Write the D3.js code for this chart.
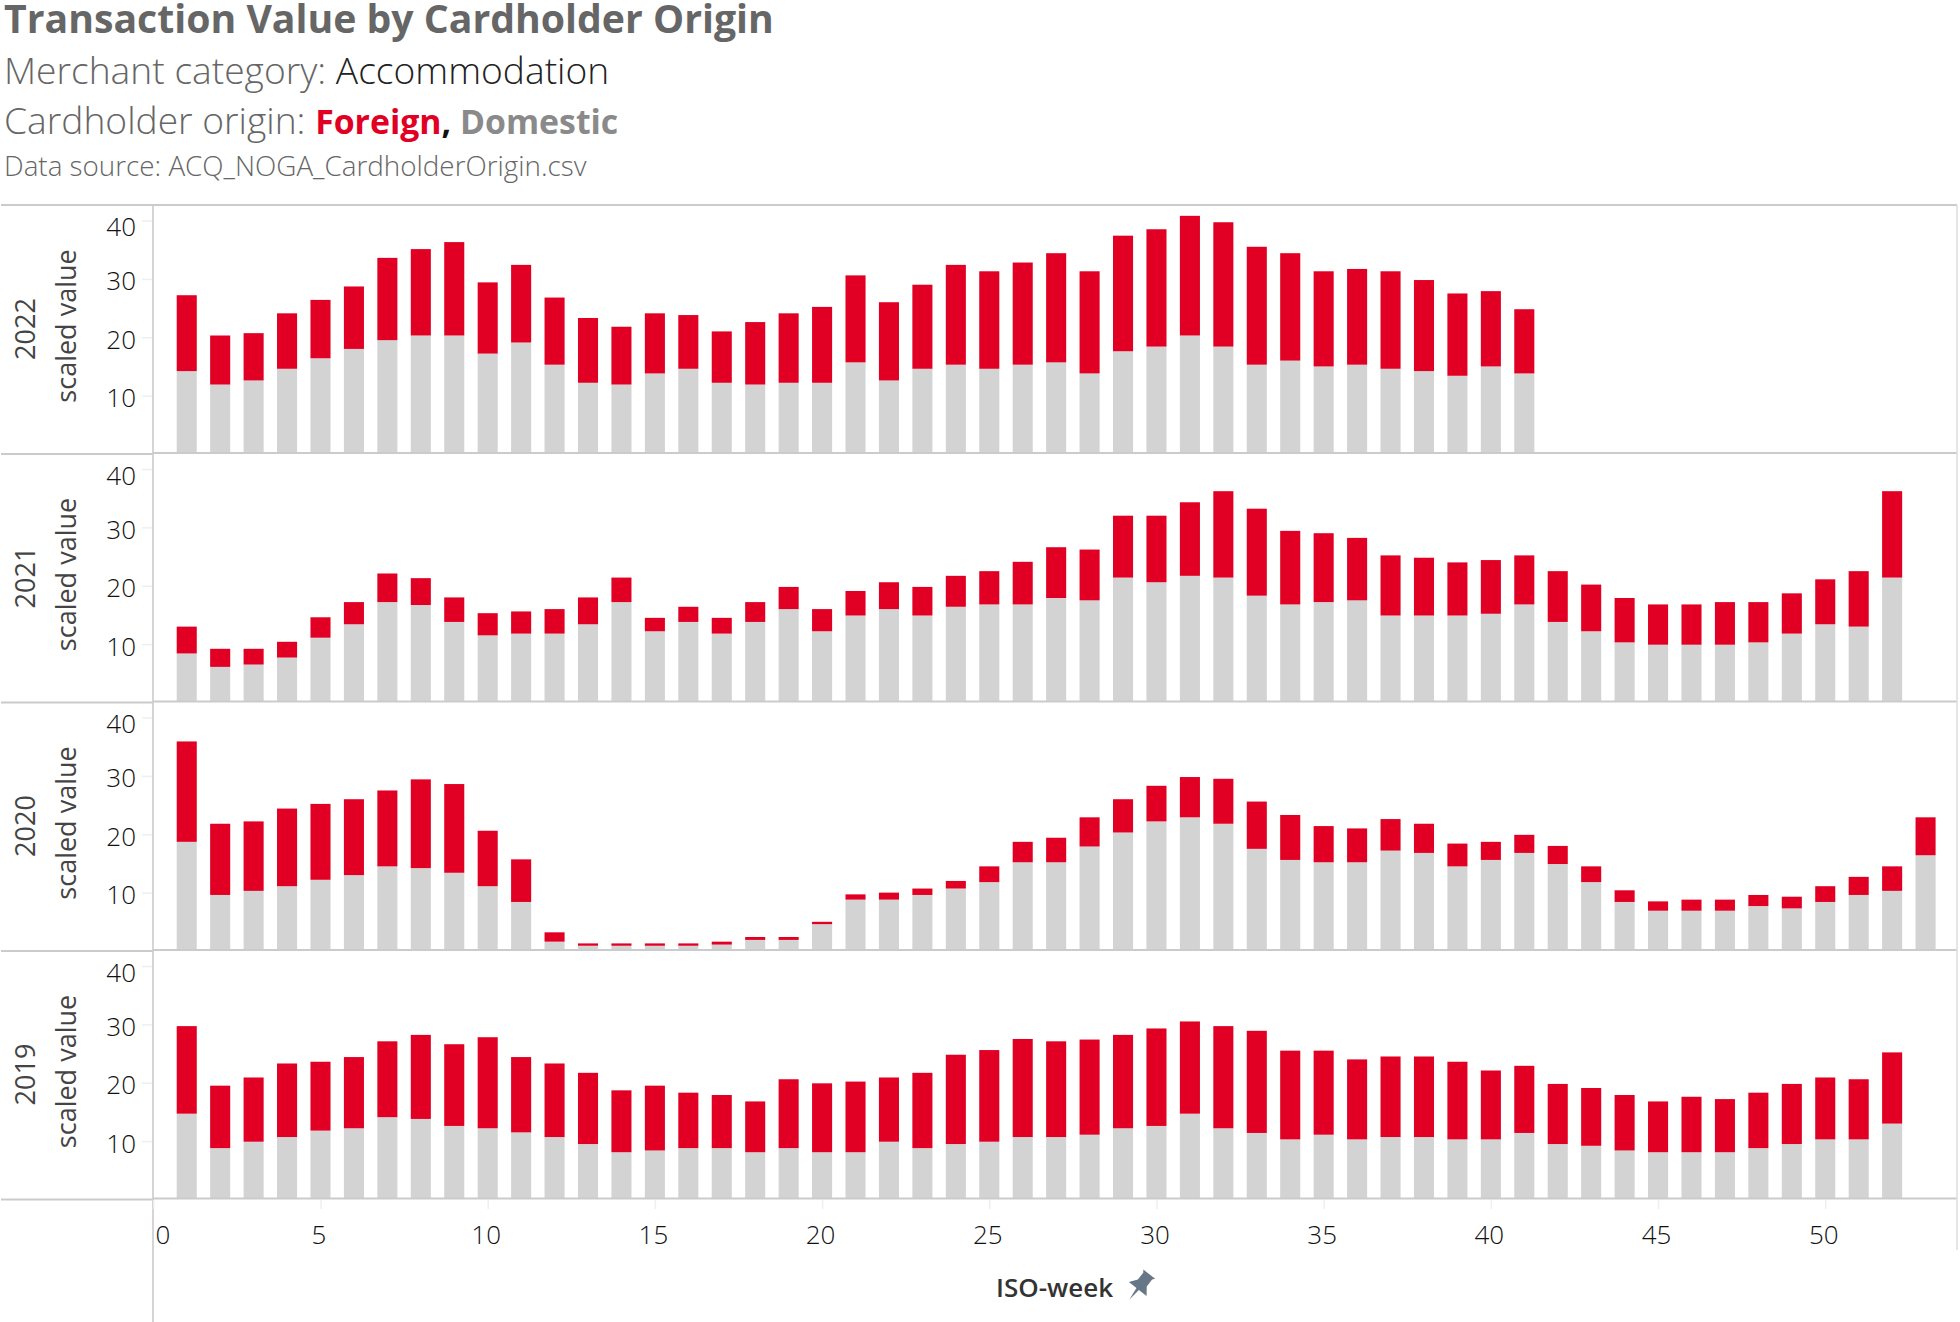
<!DOCTYPE html>
<html><head><meta charset="utf-8">
<script src="https://cdnjs.cloudflare.com/ajax/libs/d3/7.8.5/d3.min.js"></script>
<style>
html,body{margin:0;padding:0;background:#fff;overflow:hidden}
svg{display:block}
text{font-family:"Open Sans",sans-serif}
</style></head><body><svg id="c" width="1960" height="1322"></svg>
<script>
const years = [2022, 2021, 2020, 2019];
const yTicks = [10, 20, 30, 40];
const xTicks = [0, 5, 10, 15, 20, 25, 30, 35, 40, 45, 50];

const domestic2022 = [14.2,11.9,12.6,14.6,16.4,18.0,19.5,20.3,20.3,17.2,19.1,15.3,12.2,11.9,13.8,14.6,12.2,11.9,12.2,12.2,15.7,12.6,14.6,15.3,14.6,15.3,15.7,13.8,17.6,18.4,20.3,18.4,15.3,16.0,15.0,15.3,14.6,14.2,13.4,15.0,13.8];
const foreign2022  = [13.0,8.4,8.1,9.5,10.0,10.7,14.1,14.8,16.0,12.2,13.3,11.5,11.1,9.9,10.3,9.2,8.8,10.7,11.9,13.0,14.9,13.4,14.4,17.1,16.7,17.5,18.7,17.5,19.8,20.1,20.5,21.3,20.2,18.4,16.3,16.4,16.7,15.6,14.1,12.9,11.0];

const domestic2021 = [8.4,6.1,6.5,7.7,11.1,13.4,17.2,16.7,13.8,11.5,11.8,11.8,13.4,17.2,12.2,13.8,11.8,13.8,16.0,12.2,14.9,16.0,14.9,16.4,16.8,16.8,17.9,17.5,21.4,20.6,21.7,21.4,18.3,16.8,17.2,17.5,14.9,14.9,14.9,15.2,16.8,13.8,12.2,10.3,9.9,9.9,9.9,10.3,11.8,13.4,13.0,21.4];
const foreign2021  = [4.6,3.1,2.7,2.7,3.5,3.8,4.9,4.6,4.2,3.8,3.8,4.2,4.6,4.2,2.3,2.6,2.7,3.4,3.8,3.8,4.2,4.6,4.9,5.3,5.7,7.3,8.7,8.7,10.6,11.4,12.6,14.8,14.9,12.6,11.8,10.7,10.3,9.9,9.1,9.2,8.4,8.7,8.0,7.6,6.9,6.9,7.3,6.9,6.9,7.7,9.5,14.8];

const domestic2020 = [18.7,9.6,10.3,11.1,12.2,13.0,14.5,14.2,13.4,11.1,8.4,1.6,0.9,0.9,0.9,0.9,1.1,1.9,1.9,4.6,8.8,8.8,9.6,10.7,11.8,15.2,15.2,17.9,20.3,22.2,22.9,21.8,17.5,15.6,15.2,15.2,17.2,16.8,14.5,15.6,16.8,14.9,11.8,8.4,6.9,6.9,6.9,7.7,7.3,8.4,9.6,10.3,16.4];
const foreign2020  = [17.2,12.2,11.9,13.3,13.0,13.0,13.0,15.2,15.2,9.5,7.3,1.6,0.4,0.4,0.4,0.4,0.5,0.5,0.5,0.4,0.9,1.2,1.1,1.3,2.7,3.5,4.2,5.0,5.7,6.1,6.9,7.7,8.1,7.7,6.2,5.8,5.4,5.0,3.9,3.1,3.1,3.1,2.7,2.0,1.6,1.9,1.9,1.9,2.0,2.7,3.1,4.2,6.5];

const domestic2019 = [14.7,8.8,9.9,10.7,11.8,12.2,14.1,13.8,12.6,12.2,11.5,10.7,9.5,8.1,8.4,8.8,8.8,8.1,8.8,8.1,8.1,9.9,8.8,9.5,9.9,10.7,10.7,11.1,12.2,12.6,14.7,12.2,11.4,10.3,11.1,10.3,10.7,10.7,10.3,10.3,11.4,9.5,9.2,8.4,8.1,8.1,8.1,8.8,9.5,10.3,10.3,13.0];
const foreign2019  = [15.0,10.7,11.0,12.6,11.8,12.2,13.0,14.4,14.0,15.6,12.9,12.6,12.2,10.6,11.1,9.5,9.1,8.7,11.8,11.8,12.1,11.0,12.9,15.3,15.7,16.8,16.4,16.3,16.0,16.7,15.8,17.5,17.5,15.2,14.4,13.7,13.8,13.8,13.3,11.8,11.5,10.3,9.9,9.5,8.7,9.5,9.1,9.5,10.3,10.6,10.3,12.2];

const seriesByYear = {
  2022: {Domestic: domestic2022, Foreign: foreign2022},
  2021: {Domestic: domestic2021, Foreign: foreign2021},
  2020: {Domestic: domestic2020, Foreign: foreign2020},
  2019: {Domestic: domestic2019, Foreign: foreign2019}
};
const origins = ["Domestic", "Foreign"];
const colour = d3.scaleOrdinal(origins, ["#d3d3d3", "#e10024"]);

const svg = d3.select("#c");
const RULE = "#cbcbcb", LEFT = 153, RIGHT = 1957, ROW = 248.5, TOP = 205;
const x = d3.scaleLinear().domain([0, 53.94]).range([153.3, RIGHT]);
const barW = x(0.6) - x(0);
const stack = d3.stack().keys(origins);

// titles
function line(y, parts) {
  const t = svg.append("text").attr("x", 4).attr("y", y);
  parts.forEach(p => t.append("tspan").text(p[0]).attr("fill", p[1]).attr("font-size", p[2]).attr("font-weight", p[3] || 300));
}
line(33, [["Transaction Value by Cardholder Origin", "#666666", 39.2, 700]]);
line(84, [["Merchant category: ", "#666666", 37.2], ["Accommodation", "#222222", 37.2]]);
line(134, [["Cardholder origin: ", "#666666", 37.2], ["Foreign", "#e10024", 33.8, 700], [",", "#111111", 33.8, 700], [" ", "#111", 33.8], ["Domestic", "#8a8a8a", 33.8, 700]]);
line(176, [["Data source: ACQ_NOGA_CardholderOrigin.csv", "#666666", 27.8]]);

years.forEach((yr, i) => {
  const top = TOP + i * ROW, bottom = top + ROW;
  const y = d3.scaleLinear().domain([0, 40]).range([top + 249, top + 15.5]);
  const dom = seriesByYear[yr].Domestic, fo = seriesByYear[yr].Foreign;
  const rows = dom.map((d, k) => ({week: k + 1, Domestic: d, Foreign: fo[k]}));
  const clipId = "clip" + yr;
  svg.append("clipPath").attr("id", clipId).append("rect")
    .attr("x", LEFT).attr("y", top).attr("width", RIGHT - LEFT).attr("height", ROW - 1);
  const g = svg.append("g").attr("clip-path", `url(#${clipId})`);
  g.selectAll("g").data(stack(rows)).join("g").attr("fill", s => colour(s.key))
    .selectAll("rect").data(s => s).join("rect")
    .attr("x", d => x(d.data.week) - barW / 2)
    .attr("width", barW)
    .attr("y", d => y(d[1]))
    .attr("height", d => y(d[0]) - y(d[1]));

  // y axis
  const ax = svg.append("g").attr("transform", `translate(${LEFT},0)`)
    .call(d3.axisLeft(y).tickValues(yTicks).tickSize(11).tickPadding(6));
  ax.select(".domain").remove();
  ax.selectAll("line").attr("stroke", "#efefef").attr("stroke-width", 1.5);
  ax.selectAll("text").attr("font-size", 26).attr("fill", "#111").attr("font-family", "Open Sans").attr("font-weight", 300)
    .attr("dy", "0.36em")
    .attr("transform", d => `translate(0,${d === 40 ? 6 : 1.5})`);

  // facet labels
  svg.append("text").attr("transform", `translate(35,${top + 124}) rotate(-90)`)
    .attr("text-anchor", "middle").attr("font-size", 27).attr("fill", "#444").text(yr);
  svg.append("text").attr("transform", `translate(76,${top + 121}) rotate(-90)`)
    .attr("text-anchor", "middle").attr("font-size", 27).attr("fill", "#444").text("scaled value");

  // row rules
  svg.append("line").attr("x1", 1).attr("x2", LEFT).attr("y1", bottom + 0.5).attr("y2", bottom + 0.5).attr("stroke", RULE).attr("stroke-width", 2);
  svg.append("line").attr("x1", LEFT).attr("x2", RIGHT).attr("y1", bottom - 0.5).attr("y2", bottom - 0.5).attr("stroke", RULE).attr("stroke-width", 2);
});

// frame
svg.append("line").attr("x1", 1).attr("x2", RIGHT).attr("y1", TOP).attr("y2", TOP).attr("stroke", RULE).attr("stroke-width", 2);
svg.append("line").attr("x1", LEFT).attr("x2", LEFT).attr("y1", TOP).attr("y2", 1322).attr("stroke", RULE).attr("stroke-width", 1.6);
svg.append("line").attr("x1", RIGHT).attr("x2", RIGHT).attr("y1", TOP).attr("y2", 1250).attr("stroke", "#dcdcdc").attr("stroke-width", 1.5);

// x axis
const axisY = TOP + 4 * ROW + 1;
const xa = svg.append("g").attr("transform", `translate(0,${axisY})`)
  .call(d3.axisBottom(x).tickValues(xTicks).tickSize(9).tickPadding(17));
xa.select(".domain").remove();
xa.selectAll("line").attr("stroke", "#efefef").attr("stroke-width", 1.5);
xa.selectAll("text").attr("font-size", 26).attr("fill", "#111").attr("font-family", "Open Sans").attr("font-weight", 300)
  .attr("dx", d => d === 0 ? 9 : -2);

svg.append("text").attr("x", 996).attr("y", 1297).attr("font-size", 26).attr("fill", "#333").attr("font-weight", 600).text("ISO-week");
svg.append("path").attr("transform", "translate(1140,1286) rotate(38) scale(1.25)")
  .attr("fill", "#667788")
  .attr("d", "M-6,-12 L6,-12 L4.5,-10 L4.5,-3 L9,3 L1.2,3 L0,14 L-1.2,3 L-9,3 L-4.5,-3 L-4.5,-10 Z");
</script></body></html>
